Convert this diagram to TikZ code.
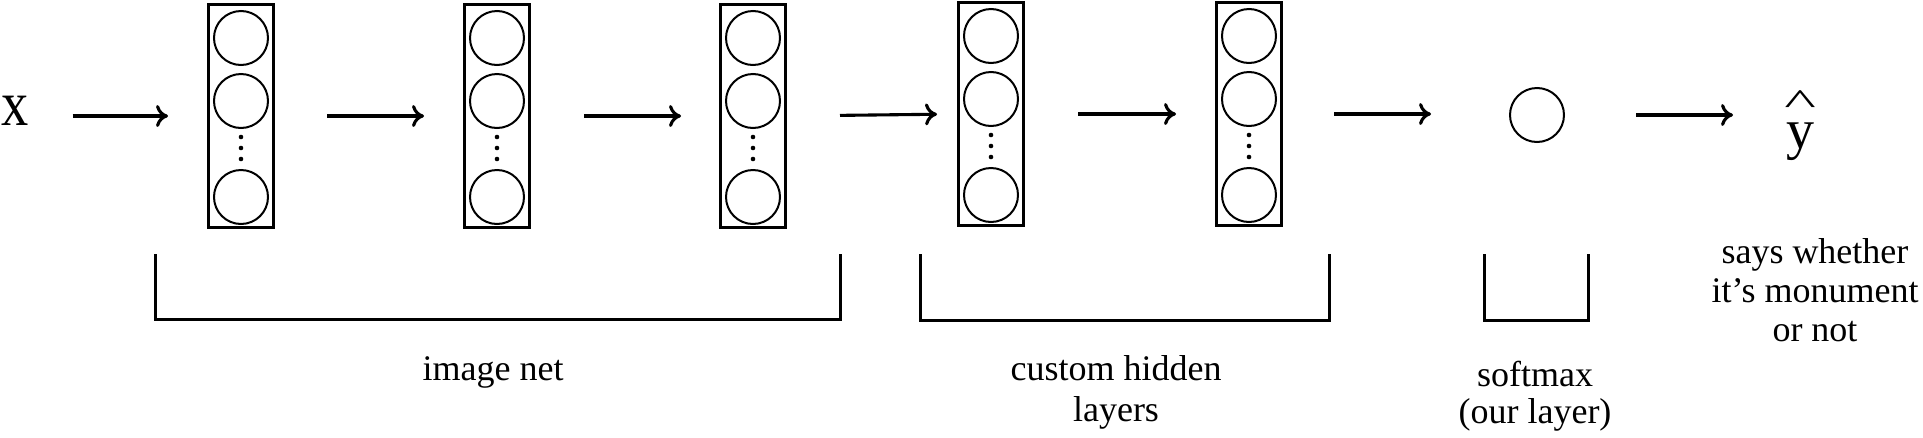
\documentclass[tikz,border=0pt]{standalone}
\usepackage{fontspec}
\setmainfont{Liberation Serif}
\usepackage{graphicx}
\usetikzlibrary{arrows.meta}
\begin{document}
\begin{tikzpicture}[x=1pt,y=-1pt,
  every node/.style={outer sep=0pt},
  layerbox/.style={draw,line width=3pt,minimum width=65pt,minimum height=223pt,inner sep=0pt},
  unit/.style={draw,circle,line width=2pt,minimum size=54pt,inner sep=0pt},
  dotn/.style={circle,fill,minimum size=4.6pt,inner sep=0pt},
  arr/.style={line width=3.1pt,-{To[length=12pt,width=22pt]}},
  brk/.style={line width=3pt},
  lbl/.style={inner sep=0pt,anchor=base,font=\fontsize{36}{40}\selectfont}]
\useasboundingbox[fill=white] (0,0) rectangle (1923,437);
% layers
\foreach \i/\cx/\cy in {1/241/116,2/497/116,3/753/116,4/991/114,5/1249/114}{
  \node[layerbox] (b\i) at (\cx,\cy) {};
  \node[unit] (b\i-u1) at (\cx,\cy-78) {};
  \node[unit] (b\i-u2) at (\cx,\cy-15) {};
  \node[unit] (b\i-u3) at (\cx,\cy+81) {};
  \node[dotn] (b\i-d1) at (\cx,\cy+21) {};
  \node[dotn] (b\i-d2) at (\cx,\cy+32) {};
  \node[dotn] (b\i-d3) at (\cx,\cy+43) {};
}
% input, softmax unit, output
\node[inner sep=0pt,anchor=base,font=\fontsize{64}{64}\selectfont] (x) at (15,125) {\scalebox{0.85}[1]{x}};
\node[unit] (s) at (1537,115) {};
\node[inner sep=0pt,anchor=base,font=\fontsize{56}{56}\selectfont] (yh) at (1800,148)
  {\ooalign{\hidewidth\raisebox{34pt}{\scalebox{1.2}[0.65]{\textasciicircum}}\hidewidth\cr y}};
% arrows
\draw[arr,shorten <=44pt,shorten >=40.5pt] (x.east |- b1.west) -- (b1.west);
\draw[arr,shorten <=53.5pt,shorten >=40.5pt] (b1.east) -- (b2.west);
\draw[arr,shorten <=54.5pt,shorten >=39.5pt] (b2.east) -- (b3.west);
\draw[arr,shorten <=54.5pt,shorten >=21.5pt] (b3.east) -- (b4.west);
\draw[arr,shorten <=54.5pt,shorten >=40.5pt] (b4.east) -- (b5.west);
\draw[arr,shorten <=52.5pt,shorten >=79pt] (b5.east) -- (b5.east -| s.west);
\draw[arr,shorten <=72pt,shorten >=53pt] (s.east) -- (s.east -| yh.west);
% brackets
\draw[brk] (155.5,254) -- (155.5,319.5) -- (840.5,319.5) -- (840.5,254);
\draw[brk] (920.5,254) -- (920.5,320.5) -- (1329,320.5) -- (1329,254);
\draw[brk] (1484.5,254) -- (1484.5,320.5) -- (1588.5,320.5) -- (1588.5,254);
% labels
\node[lbl] (l1) at (493,380) {image net};
\node[lbl,font=\fontsize{36}{41}\selectfont] (l2) at (1116,380)
  {\begin{tabular}[t]{@{}c@{}}custom hidden\\layers\end{tabular}};
\node[lbl,font=\fontsize{36}{37}\selectfont] (l3) at (1535,386)
  {\begin{tabular}[t]{@{}c@{}}softmax\\(our layer)\end{tabular}};
\node[lbl,font=\fontsize{36}{39}\selectfont] (l4) at (1815,263)
  {\begin{tabular}[t]{@{}c@{}}says whether\\it’s monument\\or not\end{tabular}};
\end{tikzpicture}
\end{document}
